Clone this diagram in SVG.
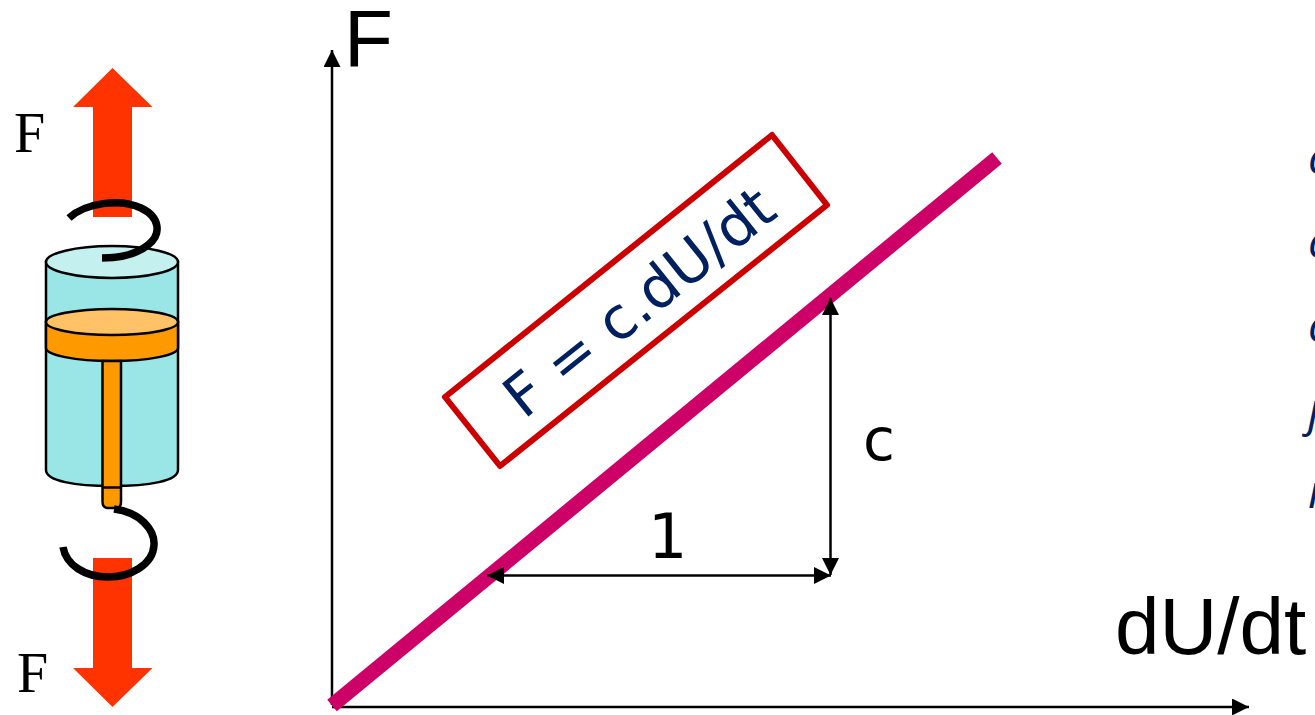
<svg xmlns="http://www.w3.org/2000/svg" width="1315" height="715" viewBox="0 0 1315 715">
<style>
.sans{font-family:"Liberation Sans",Arial,sans-serif;fill:#000}
.serif{font-family:"Liberation Serif","Times New Roman",serif;font-size:56px;fill:#000}
.dj{font-family:"DejaVu Sans",sans-serif}
.out{stroke:#000;stroke-width:2.5}
.hook{fill:none;stroke:#000;stroke-width:7.500}
.ax{stroke:#000;stroke-width:2.500;fill:none}
.rhs{font-family:"Open Sans","Noto Sans",sans-serif;font-style:italic;font-size:46px;fill:#002060}
</style>
<defs>
<marker id="tip" viewBox="0 0 10 10" refX="10" refY="5" markerWidth="18" markerHeight="17" markerUnits="userSpaceOnUse" orient="auto-start-reverse"><path d="M0 0L10 5L0 10Z" fill="#000"/></marker>
</defs>
<rect width="1315" height="715" fill="#fff"/>
<g id="force-top"><path d="M112.500 68L152.500 107H132V217H93V107H73Z" fill="#ff3300"/></g>
<g id="force-bottom"><path d="M112.500 707L152.500 668H132V558H93V668H73Z" fill="#ff3300"/></g>
<g id="damper">
<path class="out" d="M46 262V470C46 481 75 486 112 486S178 481 178 470V262Z" fill="#9ae6e6"/>
<ellipse class="out" cx="112" cy="262" rx="66" ry="16" fill="#c4f0f0"/>
<path class="out" d="M46 322V348C46 355 75 361 112 361S178 355 178 348V322Z" fill="#ff9900"/>
<ellipse class="out" cx="112" cy="322" rx="66" ry="13" fill="#ffc266"/>
<path class="out" d="M102.500 361V502Q102.500 508 108 508H116Q121 508 121 502V361Z" fill="#ff9900"/>
<path class="out" d="M102.500 487.500H121" fill="none"/>
<path class="hook" d="M69 218C85 203 120 198 141 208C160 217 162 234 148 245C137 254 120 258 102 258"/>
<path class="hook" d="M114 509C140 512 155 530 154 545C153 565 130 577 108 577C85 577 66 565 63 547"/>
</g>
<g id="connectors">
<path class="ax" d="M332 705V50" marker-end="url(#tip)"/>
<path class="ax" d="M332 707H1249" marker-end="url(#tip)"/>
<path d="M332 705.500L997 158" stroke="#cc0066" stroke-width="15" fill="none"/>
<path class="ax" d="M487 575.500H831" marker-start="url(#tip)" marker-end="url(#tip)"/>
<path class="ax" d="M830.500 298V575" marker-start="url(#tip)" marker-end="url(#tip)"/>
</g>
<g id="formula">
<path d="M445 397L772 135L827 205L500 466Z" fill="#fff" stroke="#cc0000" stroke-width="6" stroke-linejoin="round"/>
<text class="dj" transform="translate(524 420) rotate(-38.700)" font-size="58" fill="#002060">F = c.dU/dt</text>
</g>
<g id="labels">
<text class="sans" x="344" y="66" font-size="80">F</text>
<text class="sans" x="1115" y="654" font-size="80">dU/dt</text>
<text class="dj" x="863" y="460" font-size="58" fill="#000">c</text>
<text class="dj" x="648" y="558" font-size="62" fill="#000">1</text>
<text class="serif" x="14" y="152">F</text>
<text class="serif" x="17" y="692">F</text>
<text class="rhs" x="1308" y="174">c</text>
<text class="rhs" x="1308" y="258">c</text>
<text class="rhs" x="1308" y="342">c</text>
<text class="rhs" x="1308" y="426">j</text>
<text class="rhs" x="1308" y="508">r</text>
</g>
</svg>
